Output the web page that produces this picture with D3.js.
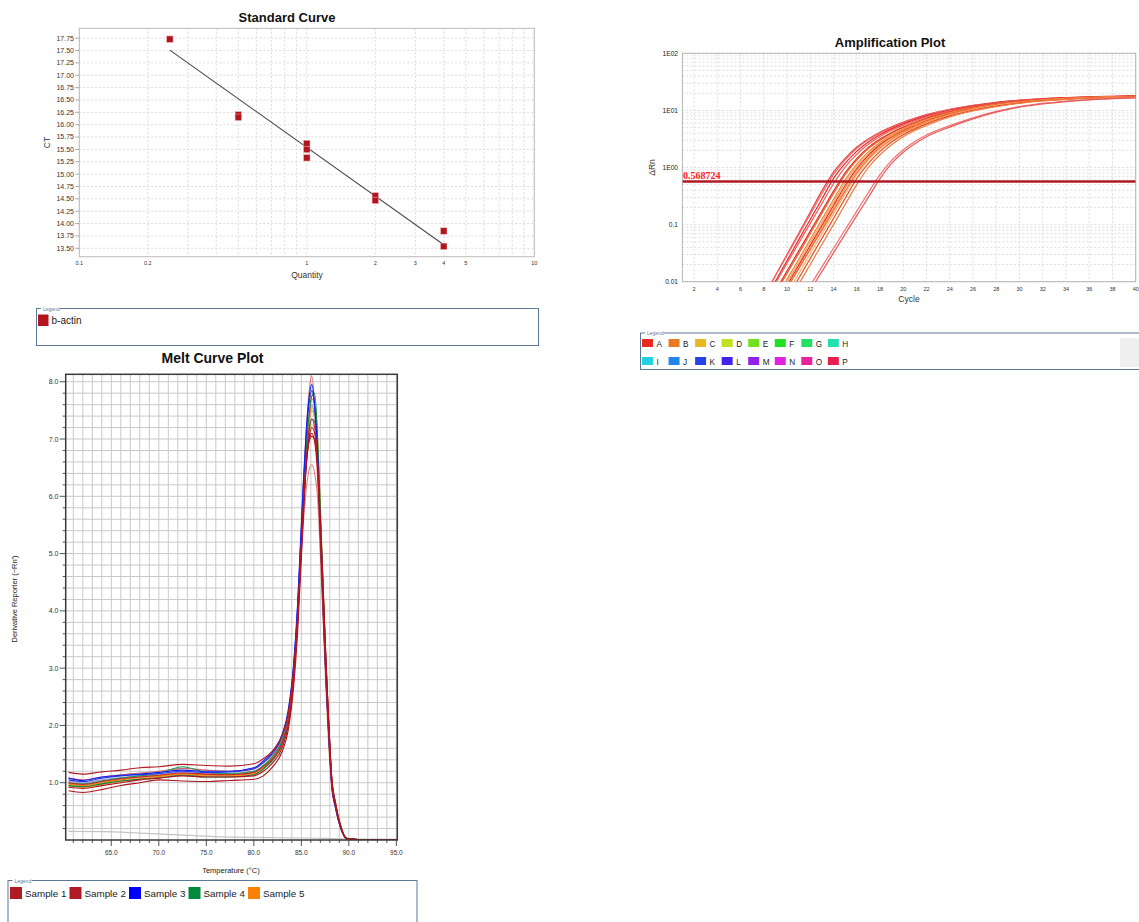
<!DOCTYPE html>
<html>
<head>
<meta charset="utf-8">
<script src="https://cdn.jsdelivr.net/npm/d3@7"></script>
<style>
  html, body { margin: 0; padding: 0; background: #fff; }
  svg { display: block; font-family: "Liberation Sans", Arial, sans-serif; }
</style>
</head>
<body>
<svg id="chart" width="1139" height="922"></svg>
<script>
// ---------------- Standard curve data ----------------
const stdQuantity = [0.25, 0.5, 0.5, 1, 1, 1, 2, 2, 4, 4];
const stdCt = [17.73, 16.20, 16.15, 15.62, 15.50, 15.33, 14.56, 14.47, 13.85, 13.54];
const fitSlope = -3.27;
const fitIntercept = 15.54;
const fitQtyRange = [0.25, 4];
const stdYTicks = [13.50, 13.75, 14.00, 14.25, 14.50, 14.75, 15.00, 15.25, 15.50, 15.75,
                   16.00, 16.25, 16.50, 16.75, 17.00, 17.25, 17.50, 17.75];
const stdXTicks = [0.1, 0.2, 1, 2, 3, 4, 5, 10];
const stdXTickLabels = ["0.1", "0.2", "1", "2", "3", "4", "5", "10"];
const stdTargets = ["b-actin"];
const stdTargetColors = ["#b3151f"];

// ---------------- Amplification data ----------------
const ampCycles = [8, 9, 10, 11, 12, 13, 14, 15, 16, 17, 18, 19, 20, 21, 22, 24, 26, 28, 30, 32, 34, 36, 38, 40];
const ampWells = [
  [0.0055, 0.0128, 0.030, 0.070, 0.165, 0.39, 0.83, 1.45, 2.27, 3.17, 4.15, 5.15, 6.25, 7.3, 8.45, 10.45, 12.3, 13.9, 15.1, 16.05, 16.75, 17.25, 17.65, 17.9],
  [0.0055, 0.0126, 0.0288, 0.066, 0.151, 0.346, 0.75, 1.35, 2.15, 3.05, 4.0, 5.0, 6.05, 7.15, 8.25, 10.3, 12.1, 13.75, 15.0, 16.0, 16.7, 17.3, 17.7, 18.0],
  [0.0045, 0.0102, 0.0234, 0.054, 0.123, 0.281, 0.64, 1.18, 1.92, 2.8, 3.75, 4.75, 5.8, 6.9, 8.0, 10.05, 11.9, 13.55, 14.85, 15.85, 16.55, 17.1, 17.5, 17.8],
  [0.0042, 0.0093, 0.021, 0.047, 0.105, 0.234, 0.52, 1.02, 1.7, 2.55, 3.5, 4.5, 5.5, 6.6, 7.7, 9.8, 11.7, 13.35, 14.7, 15.75, 16.5, 17.05, 17.4, 17.6],
  [0.0031, 0.0069, 0.0154, 0.0344, 0.077, 0.173, 0.386, 0.81, 1.43, 2.25, 3.15, 4.1, 5.1, 6.2, 7.3, 9.4, 11.35, 13.05, 14.5, 15.6, 16.4, 17.0, 17.45, 17.8],
  [0.0028, 0.0062, 0.014, 0.031, 0.070, 0.157, 0.35, 0.75, 1.35, 2.15, 3.0, 4.0, 5.0, 6.05, 7.15, 9.3, 11.25, 12.95, 14.4, 15.5, 16.3, 16.9, 17.35, 17.7],
  [0.0022, 0.0049, 0.011, 0.0245, 0.055, 0.123, 0.275, 0.61, 1.15, 1.88, 2.75, 3.7, 4.7, 5.75, 6.85, 9.0, 10.95, 12.75, 14.2, 15.35, 16.2, 16.85, 17.3, 17.6],
  [0.0019, 0.0043, 0.0097, 0.0217, 0.0486, 0.109, 0.244, 0.55, 1.05, 1.73, 2.6, 3.55, 4.55, 5.55, 6.65, 8.85, 10.8, 12.6, 14.1, 15.3, 16.15, 16.8, 17.2, 17.5],
  [0.0017, 0.0038, 0.0086, 0.0193, 0.0432, 0.0966, 0.216, 0.48, 0.95, 1.63, 2.5, 3.4, 4.4, 5.4, 6.5, 8.7, 10.7, 12.5, 14.05, 15.25, 16.15, 16.85, 17.35, 17.7],
  [0.0016, 0.0034, 0.0077, 0.0173, 0.0387, 0.0866, 0.194, 0.435, 0.88, 1.52, 2.37, 3.27, 4.27, 5.27, 6.37, 8.57, 10.57, 12.37, 13.97, 15.2, 16.1, 16.75, 17.2, 17.6],
  [0.0016, 0.0035, 0.0077, 0.0168, 0.0367, 0.080, 0.176, 0.385, 0.80, 1.42, 2.22, 3.1, 4.1, 5.1, 6.2, 8.4, 10.4, 12.2, 13.85, 15.05, 15.95, 16.6, 17.05, 17.4],
  [0.0012, 0.0027, 0.0061, 0.0137, 0.0308, 0.0689, 0.154, 0.345, 0.74, 1.33, 2.12, 3.0, 3.95, 4.95, 6.05, 8.25, 10.3, 12.1, 13.75, 15.0, 15.95, 16.65, 17.15, 17.5],
  [0.0010, 0.0023, 0.0051, 0.0114, 0.0255, 0.0571, 0.128, 0.286, 0.64, 1.18, 1.92, 2.8, 3.75, 4.75, 5.8, 8.0, 10.05, 11.9, 13.55, 14.85, 15.8, 16.5, 17.0, 17.3],
  [0.0008, 0.0018, 0.0040, 0.0090, 0.0200, 0.0449, 0.100, 0.225, 0.50, 1.0, 1.67, 2.5, 3.45, 4.45, 5.45, 7.65, 9.75, 11.65, 13.3, 14.65, 15.6, 16.3, 16.85, 17.2],
  [0.0004, 0.0010, 0.0019, 0.0041, 0.0086, 0.0182, 0.0385, 0.0813, 0.172, 0.363, 0.75, 1.33, 2.05, 2.85, 3.7, 5.4, 7.4, 9.6, 11.7, 13.3, 14.5, 15.5, 16.2, 16.8],
  [0.0003, 0.0007, 0.0016, 0.0034, 0.0071, 0.015, 0.032, 0.068, 0.144, 0.30, 0.64, 1.18, 1.85, 2.6, 3.45, 5.1, 7.1, 9.3, 11.4, 13.0, 14.3, 15.3, 16.0, 16.6]
];
const ampWellColors = ["#e84040", "#f06a6a", "#e02c2c", "#ef5c5c", "#e2301c", "#ea5a28", "#f08030", "#f3a062",
                       "#e42a1e", "#f29a55", "#eb6a2c", "#f5b07a", "#e64a22", "#ee7a3a", "#f07272", "#e85a5a"];
const ampThreshold = 0.568724;
const ampXTicks = [2, 4, 6, 8, 10, 12, 14, 16, 18, 20, 22, 24, 26, 28, 30, 32, 34, 36, 38, 40];
const ampYTicks = [0.01, 0.1, 1, 10, 100];
const ampYTickLabels = ["0.01", "0.1", "1E00", "1E01", "1E02"];
const ampLegendKeys = ["A", "B", "C", "D", "E", "F", "G", "H", "I", "J", "K", "L", "M", "N", "O", "P"];
const ampLegendColors = ["#ea2a1e", "#e87a22", "#e8b820", "#c2e020", "#72e020", "#22e022", "#22e064", "#22e0b2",
                         "#22d2e2", "#2286e8", "#2244e8", "#4422e8", "#9222e8", "#e022e0", "#e8229a", "#e81e4e"];

// ---------------- Melt curve data ----------------
const meltTemps = [60.5, 62, 64, 66, 68, 70, 72.5, 75, 77.5, 80, 81, 82, 83, 83.6, 84.2, 84.6, 84.9, 85.2, 85.5,
                   85.8, 86.1, 86.4, 86.7, 87.0, 87.3, 87.6, 87.9, 88.2, 88.6, 89.1, 89.8, 92, 95];
const meltCurves = [
  [1.02, 0.99, 1.04, 1.08, 1.11, 1.13, 1.17, 1.15, 1.15, 1.19, 1.29, 1.45, 1.73, 2.1, 2.9, 3.85, 4.8, 5.7, 6.5, 7.0, 7.25, 7.2, 6.75, 5.6, 4.3, 3.0, 1.95, 1.06, 0.63, 0.27, 0.03, 0, 0],
  [0.98, 0.96, 1.01, 1.06, 1.09, 1.11, 1.15, 1.13, 1.13, 1.17, 1.27, 1.43, 1.71, 2.07, 2.88, 3.85, 4.85, 5.85, 6.7, 7.25, 7.5, 7.35, 6.8, 5.55, 4.2, 2.9, 1.88, 1.0, 0.6, 0.25, 0.02, 0, 0],
  [1.03, 1.0, 1.05, 1.09, 1.12, 1.14, 1.18, 1.16, 1.16, 1.2, 1.3, 1.47, 1.76, 2.12, 2.95, 3.95, 4.95, 5.95, 6.8, 7.35, 7.6, 7.4, 6.7, 5.4, 4.1, 2.85, 1.85, 1.0, 0.6, 0.25, 0.02, 0, 0],
  [0.95, 0.93, 0.98, 1.03, 1.07, 1.1, 1.16, 1.13, 1.12, 1.15, 1.25, 1.4, 1.68, 2.05, 2.85, 3.8, 4.7, 5.5, 6.1, 6.45, 6.55, 6.4, 6.0, 5.0, 3.9, 2.75, 1.75, 0.95, 0.58, 0.24, 0.02, 0, 0],
  [1.08, 1.05, 1.1, 1.14, 1.17, 1.2, 1.25, 1.22, 1.2, 1.25, 1.35, 1.5, 1.78, 2.15, 3.0, 4.0, 5.1, 6.2, 7.1, 7.8, 8.1, 7.6, 6.6, 5.1, 3.8, 2.6, 1.6, 0.9, 0.55, 0.22, 0.02, 0, 0],
  [0.95, 0.92, 0.97, 1.02, 1.06, 1.1, 1.15, 1.12, 1.12, 1.16, 1.26, 1.42, 1.7, 2.06, 2.88, 3.82, 4.8, 5.8, 6.65, 7.25, 7.55, 7.45, 6.9, 5.7, 4.35, 3.05, 1.98, 1.08, 0.64, 0.27, 0.03, 0, 0],
  [0.98, 0.95, 1.0, 1.05, 1.09, 1.12, 1.16, 1.14, 1.14, 1.18, 1.28, 1.44, 1.72, 2.08, 2.9, 3.85, 4.85, 5.85, 6.75, 7.35, 7.7, 7.6, 7.0, 5.75, 4.4, 3.1, 2.0, 1.1, 0.65, 0.28, 0.03, 0, 0],
  [1.0, 0.98, 1.03, 1.08, 1.12, 1.16, 1.28, 1.18, 1.16, 1.2, 1.3, 1.46, 1.74, 2.1, 2.9, 3.85, 4.8, 5.75, 6.55, 7.1, 7.35, 7.3, 6.8, 5.6, 4.25, 2.95, 1.9, 1.02, 0.6, 0.25, 0.02, 0, 0],
  [0.95, 0.93, 0.98, 1.03, 1.06, 1.08, 1.13, 1.1, 1.1, 1.14, 1.24, 1.4, 1.68, 2.05, 2.85, 3.8, 4.8, 5.8, 6.75, 7.4, 7.75, 7.8, 7.1, 5.8, 4.4, 3.05, 1.95, 1.05, 0.62, 0.26, 0.03, 0, 0],
  [1.05, 1.02, 1.08, 1.12, 1.14, 1.16, 1.2, 1.18, 1.19, 1.24, 1.35, 1.52, 1.82, 2.2, 3.05, 4.05, 5.05, 6.1, 7.0, 7.6, 7.85, 7.55, 6.8, 5.4, 4.05, 2.8, 1.8, 0.97, 0.57, 0.23, 0.02, 0, 0],
  [1.08, 1.04, 1.1, 1.13, 1.15, 1.18, 1.22, 1.2, 1.2, 1.26, 1.38, 1.55, 1.85, 2.25, 3.1, 4.1, 5.15, 6.2, 7.1, 7.7, 7.95, 7.6, 6.75, 5.35, 4.0, 2.75, 1.75, 0.95, 0.56, 0.23, 0.02, 0, 0],
  [1.0, 0.97, 1.02, 1.07, 1.1, 1.13, 1.17, 1.15, 1.14, 1.18, 1.28, 1.42, 1.7, 2.08, 2.9, 3.85, 4.85, 5.8, 6.6, 7.15, 7.35, 7.2, 6.6, 5.3, 4.0, 2.8, 1.8, 0.98, 0.6, 0.25, 0.02, 0, 0],
  [1.18, 1.15, 1.19, 1.22, 1.26, 1.28, 1.32, 1.30, 1.29, 1.33, 1.42, 1.56, 1.84, 2.2, 3.0, 3.9, 4.8, 5.7, 6.5, 6.95, 7.1, 6.95, 6.4, 5.3, 4.1, 2.9, 1.9, 1.05, 0.62, 0.26, 0.02, 0, 0],
  [0.86, 0.83, 0.88, 0.95, 1.0, 1.05, 1.03, 1.02, 1.04, 1.06, 1.12, 1.28, 1.55, 1.9, 2.7, 3.6, 4.6, 5.6, 6.5, 7.0, 7.2, 7.1, 6.6, 5.5, 4.3, 3.1, 2.0, 1.1, 0.65, 0.27, 0.02, 0, 0],
  [0.92, 0.9, 0.95, 1.0, 1.05, 1.08, 1.12, 1.1, 1.1, 1.12, 1.2, 1.35, 1.62, 1.98, 2.8, 3.75, 4.75, 5.75, 6.55, 6.95, 7.05, 7.0, 6.6, 5.6, 4.4, 3.1, 2.0, 1.05, 0.6, 0.25, 0.02, 0, 0]
];
const meltCurveColors = ["#f5b878", "#80c898", "#9a9ae8", "#d98080", "#d9686b", "#f59020", "#ff8000", "#1a9a50",
                         "#0a8a40", "#2a3ae0", "#1020f0", "#c42a30", "#b31b22", "#a8161e", "#b0141c"];
const meltBlankTemps = [60.5, 64, 68, 72, 76, 80, 85, 90, 95];
const meltBlankValues = [0.15, 0.145, 0.12, 0.09, 0.06, 0.045, 0.035, 0.02, 0.015];
const meltYTicks = [1, 2, 3, 4, 5, 6, 7, 8];
const meltXTicks = [65, 70, 75, 80, 85, 90, 95];
const meltSamples = ["Sample 1", "Sample 2", "Sample 3", "Sample 4", "Sample 5"];
const meltSampleColors = ["#b01a22", "#b01a22", "#0000ff", "#008a3e", "#ff8000"];

// ---------------- drawing ----------------
const svg = d3.select("#chart");
const defs = svg.append("defs");

function clipRect(id, x0, y0, x1, y1) {
  defs.append("clipPath").attr("id", id).append("rect")
    .attr("x", x0).attr("y", y0).attr("width", x1 - x0).attr("height", y1 - y0);
}

function legendBox(x, y, w, h) {
  const g = svg.append("g");
  g.append("rect").attr("x", x + 0.5).attr("y", y + 0.5).attr("width", w).attr("height", h)
    .attr("fill", "#fff").attr("stroke", "#5b7a99").attr("stroke-width", 1);
  g.append("rect").attr("x", x + 5).attr("y", y - 2).attr("width", 19).attr("height", 4).attr("fill", "#fff");
  g.append("text").attr("x", x + 7).attr("y", y + 2.5).attr("font-size", 5).attr("fill", "#5b7a99").text("Legend");
  return g;
}

// ===== Standard Curve =====
{
  const L = 79.3, R = 534.3, T = 28.3, B = 256.7;
  const x = d3.scaleLog().domain([0.1, 10]).range([L, R]);
  const y = d3.scaleLinear().domain([13.33, 17.95]).range([B, T]);
  const g = svg.append("g");
  clipRect("clipStd", L, T, R, B);

  g.append("text").attr("x", 287).attr("y", 21.5).attr("text-anchor", "middle")
    .attr("font-size", 13).attr("font-weight", "bold").attr("fill", "#111").text("Standard Curve");

  g.append("g").selectAll("line").data(x.ticks()).join("line")
    .attr("x1", d => x(d)).attr("x2", d => x(d)).attr("y1", T).attr("y2", B)
    .attr("stroke", "#dadada").attr("stroke-dasharray", "2,2");
  g.append("g").selectAll("line").data(stdYTicks).join("line")
    .attr("x1", L).attr("x2", R).attr("y1", d => y(d)).attr("y2", d => y(d))
    .attr("stroke", "#dadada").attr("stroke-dasharray", "2,2");

  g.append("g").selectAll("line").data(stdYTicks).join("line")
    .attr("x1", L - 4).attr("x2", L).attr("y1", d => y(d)).attr("y2", d => y(d)).attr("stroke", "#aaa");
  g.append("g").selectAll("text").data(stdYTicks).join("text")
    .attr("x", 74).attr("y", d => y(d) + 2.4).attr("text-anchor", "end")
    .attr("font-size", 7).attr("fill", "#333").text(d => d3.format(".2f")(d));
  g.append("g").selectAll("text").data(stdXTicks).join("text")
    .attr("x", d => x(d)).attr("y", 265).attr("text-anchor", "middle")
    .attr("font-size", 5.5).attr("fill", "#333").text((d, i) => stdXTickLabels[i]);

  g.append("rect").attr("x", L).attr("y", T).attr("width", R - L).attr("height", B - T)
    .attr("fill", "none").attr("stroke", "#bbb");

  const fitLine = d3.line().x(d => x(d)).y(d => y(fitIntercept + fitSlope * Math.log10(d)));
  g.append("path").attr("d", fitLine(fitQtyRange)).attr("fill", "none")
    .attr("stroke", "#4a4a4a").attr("stroke-width", 1.1).attr("clip-path", "url(#clipStd)");

  const pts = stdQuantity.map((q, i) => ({ q, ct: stdCt[i] }));
  g.append("g").selectAll("rect").data(pts).join("rect")
    .attr("x", d => x(d.q) - 3.2).attr("y", d => y(d.ct) - 3.2)
    .attr("width", 6.4).attr("height", 6.4).attr("fill", stdTargetColors[0])
    .attr("stroke", "#e9b5b5").attr("stroke-width", 0.5);

  g.append("text").attr("x", 307).attr("y", 277.5).attr("text-anchor", "middle")
    .attr("font-size", 8.5).attr("fill", "#333").text("Quantity");
  g.append("text").attr("transform", "translate(50,142.5) rotate(-90)").attr("text-anchor", "middle")
    .attr("font-size", 8.5).attr("fill", "#333").text("CT");

  const lg = legendBox(36, 308, 502, 37);
  stdTargets.forEach((name, i) => {
    lg.append("rect").attr("x", 38).attr("y", 314.5).attr("width", 10.5).attr("height", 11.5).attr("fill", stdTargetColors[i]);
    lg.append("text").attr("x", 51.5).attr("y", 324).attr("font-size", 10).attr("fill", "#222").text(name);
  });
}

// ===== Amplification Plot =====
{
  const L = 682.4, R = 1135.7, T = 53.3, B = 281.7;
  const x = d3.scaleLinear().domain([1, 40]).range([L, R]);
  const y = d3.scaleLog().domain([0.01, 100]).range([B, T]);
  const g = svg.append("g");
  clipRect("clipAmp", L, T, R, B);

  g.append("text").attr("x", 890).attr("y", 46.5).attr("text-anchor", "middle")
    .attr("font-size", 13).attr("font-weight", "bold").attr("fill", "#111").text("Amplification Plot");

  g.append("g").selectAll("line").data(ampXTicks).join("line")
    .attr("x1", d => x(d)).attr("x2", d => x(d)).attr("y1", T).attr("y2", B)
    .attr("stroke", "#dcdcdc").attr("stroke-dasharray", "2,2");
  g.append("g").selectAll("line").data(y.ticks()).join("line")
    .attr("x1", L).attr("x2", R).attr("y1", d => y(d)).attr("y2", d => y(d))
    .attr("stroke", "#dcdcdc").attr("stroke-dasharray", "2,2");

  g.append("g").selectAll("text").data(ampYTicks).join("text")
    .attr("x", 678).attr("y", d => y(d) + 2.4).attr("text-anchor", "end")
    .attr("font-size", 6.6).attr("fill", "#222").text((d, i) => ampYTickLabels[i]);
  g.append("g").selectAll("text").data(ampXTicks).join("text")
    .attr("x", d => x(d)).attr("y", 290.5).attr("text-anchor", "middle")
    .attr("font-size", 5.5).attr("fill", "#333").text(d => d);

  g.append("rect").attr("x", L).attr("y", T).attr("width", R - L).attr("height", B - T)
    .attr("fill", "none").attr("stroke", "#b5b5b5");

  const line = d3.line().x((d, i) => x(ampCycles[i])).y(d => y(d)).curve(d3.curveMonotoneX);
  const cg = g.append("g").attr("clip-path", "url(#clipAmp)");
  cg.selectAll("path").data(ampWells).join("path")
    .attr("d", line).attr("fill", "none")
    .attr("stroke", (d, i) => ampWellColors[i]).attr("stroke-width", 1.2);

  cg.append("line").attr("x1", L).attr("x2", R).attr("y1", y(ampThreshold)).attr("y2", y(ampThreshold))
    .attr("stroke", "#b21a24").attr("stroke-width", 2.6);
  g.append("text").attr("x", 683).attr("y", y(ampThreshold) - 2.2)
    .attr("font-family", "'Liberation Serif', 'Times New Roman', serif").attr("font-weight", "bold")
    .attr("font-size", 10).attr("fill", "#ff2020").text(d3.format(".6f")(ampThreshold));

  g.append("text").attr("x", 909).attr("y", 302).attr("text-anchor", "middle")
    .attr("font-size", 8.5).attr("fill", "#333").text("Cycle");
  g.append("text").attr("transform", "translate(655,167.5) rotate(-90)").attr("text-anchor", "middle")
    .attr("font-size", 8.5).attr("fill", "#333").text("ΔRn");

  const lg = legendBox(640, 332.5, 505, 36.5);
  lg.append("rect").attr("x", 1120).attr("y", 338).attr("width", 19).attr("height", 29).attr("fill", "#efefef");
  ampLegendKeys.forEach((k, i) => {
    const col = i % 8, row = Math.floor(i / 8);
    const sx = 642 + col * 26.55, sy = 339 + row * 18;
    lg.append("rect").attr("x", sx).attr("y", sy).attr("width", 11).attr("height", 8).attr("fill", ampLegendColors[i]);
    lg.append("text").attr("x", sx + 14.5).attr("y", sy + 7.5).attr("font-size", 8.2).attr("fill", "#222").text(k);
  });
}

// ===== Melt Curve Plot =====
{
  const L = 65.7, R = 397.3, T = 374.3, B = 840;
  const x = d3.scaleLinear().domain([60.2, 95.1]).range([L, R]);
  const y = d3.scaleLinear().domain([0, 8.13]).range([B, T]);
  const g = svg.append("g");
  clipRect("clipMelt", L, T, R, B);

  g.append("text").attr("x", 212.5).attr("y", 362.5).attr("text-anchor", "middle")
    .attr("font-size", 14).attr("font-weight", "bold").attr("fill", "#111").text("Melt Curve Plot");

  const vGrid = d3.range(61, 96, 1);
  const hGrid = d3.range(1, 41).map(k => k * 0.2);
  g.append("g").selectAll("line").data(vGrid).join("line")
    .attr("x1", d => x(d)).attr("x2", d => x(d)).attr("y1", T).attr("y2", B)
    .attr("stroke", "#c9c9c9").attr("stroke-width", 1);
  g.append("g").selectAll("line").data(hGrid).join("line")
    .attr("x1", L).attr("x2", R).attr("y1", d => y(d)).attr("y2", d => y(d))
    .attr("stroke", "#c9c9c9").attr("stroke-width", 1);

  g.append("g").selectAll("line").data(hGrid).join("line")
    .attr("x1", (d, i) => ((i + 1) % 5 === 0 ? L - 6 : L - 3)).attr("x2", L)
    .attr("y1", d => y(d)).attr("y2", d => y(d)).attr("stroke", "#555");
  g.append("g").selectAll("line").data(vGrid).join("line")
    .attr("x1", d => x(d)).attr("x2", d => x(d)).attr("y1", B)
    .attr("y2", d => (d % 5 === 0 ? B + 6 : B + 3)).attr("stroke", "#555");

  g.append("g").selectAll("text").data(meltYTicks).join("text")
    .attr("x", 58.5).attr("y", d => y(d) + 2.5).attr("text-anchor", "end")
    .attr("font-size", 7).attr("fill", "#333").text(d => d3.format(".1f")(d));
  g.append("g").selectAll("text").data(meltXTicks).join("text")
    .attr("x", d => x(d)).attr("y", 855).attr("text-anchor", "middle")
    .attr("font-size", 6.5).attr("fill", "#333").text(d => d3.format(".1f")(d));

  const cg = g.append("g").attr("clip-path", "url(#clipMelt)");
  const blankLine = d3.line().x((d, i) => x(meltBlankTemps[i])).y(d => y(d)).curve(d3.curveMonotoneX);
  cg.append("path").attr("d", blankLine(meltBlankValues)).attr("fill", "none")
    .attr("stroke", "#c4c4c4").attr("stroke-width", 1.2);
  const line = d3.line().x((d, i) => x(meltTemps[i])).y(d => y(d)).curve(d3.curveMonotoneX);
  cg.selectAll("path.melt").data(meltCurves).join("path").attr("class", "melt")
    .attr("d", line).attr("fill", "none")
    .attr("stroke", (d, i) => meltCurveColors[i]).attr("stroke-width", 1.1);

  g.append("rect").attr("x", L).attr("y", T).attr("width", R - L).attr("height", B - T)
    .attr("fill", "none").attr("stroke", "#3a3a3a").attr("stroke-width", 1.5);

  g.append("text").attr("x", 231).attr("y", 873).attr("text-anchor", "middle")
    .attr("font-size", 7.5).attr("fill", "#222").text("Temperature (°C)");
  g.append("text").attr("transform", "translate(16.5,599) rotate(-90)").attr("text-anchor", "middle")
    .attr("font-size", 7.5).attr("fill", "#222").text("Derivative Reporter (−Rn′)");

  const lg = legendBox(7.5, 880, 409, 60);
  meltSamples.forEach((s, i) => {
    const sx = 10 + i * 59.5;
    lg.append("rect").attr("x", sx).attr("y", 887).attr("width", 12).attr("height", 12).attr("fill", meltSampleColors[i]);
    lg.append("text").attr("x", sx + 15).attr("y", 897).attr("font-size", 9.8).attr("fill", "#222").text(s);
  });
}
</script>
</body>
</html>
